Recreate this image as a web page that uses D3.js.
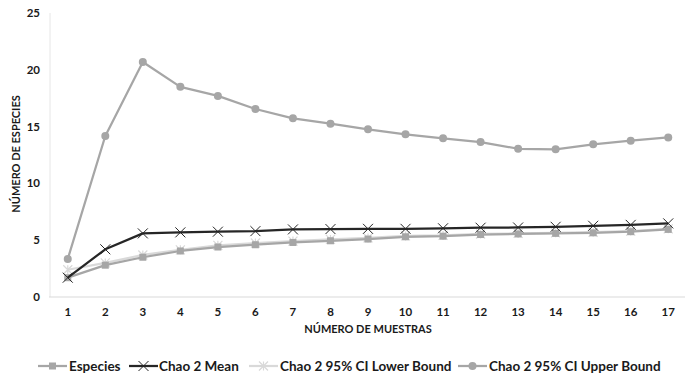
<!DOCTYPE html>
<html>
<head>
<meta charset="utf-8">
<script src="https://cdn.jsdelivr.net/npm/d3@7"></script>
<style>
  body { margin: 0; background: #fff; }
  text { font-family: Lato, "Open Sans", sans-serif; fill: #1a1a1a; }
</style>
</head>
<body>
<div id="chart"></div>
<script>
// Data
const samples = d3.range(1, 18);
const especies = [1.7, 2.8, 3.5, 4.05, 4.4, 4.6, 4.8, 4.95, 5.1, 5.3, 5.35, 5.5, 5.55, 5.6, 5.65, 5.75, 5.95];
const chaoMean = [1.7, 4.2, 5.6, 5.69, 5.75, 5.8, 5.95, 5.98, 6.0, 6.0, 6.05, 6.1, 6.12, 6.18, 6.27, 6.35, 6.48];
const lowerBound = [2.4, 3.0, 3.7, 4.15, 4.55, 4.75, 4.92, 5.07, 5.2, 5.38, 5.42, 5.55, 5.6, 5.65, 5.7, 5.8, 6.0];
const upperBound = [3.35, 14.17, 20.69, 18.5, 17.7, 16.55, 15.73, 15.26, 14.76, 14.32, 13.97, 13.64, 13.05, 13.0, 13.44, 13.76, 14.05];
const yTicks = [0, 5, 10, 15, 20, 25];

const series = [
  { name: "Especies", values: especies, color: "#a6a6a6", marker: "square" },
  { name: "Chao 2 Mean", values: chaoMean, color: "#262626", marker: "x" },
  { name: "Chao 2 95% CI Lower Bound", values: lowerBound, color: "#d9d9d9", marker: "star" },
  { name: "Chao 2 95% CI Upper Bound", values: upperBound, color: "#a6a6a6", marker: "circle" }
];

const width = 685, height = 379;
const margin = { top: 13, right: -2, bottom: 82, left: 49 };

const svg = d3.select("#chart").append("svg")
  .attr("width", width)
  .attr("height", height);

const x = d3.scaleBand()
  .domain(samples)
  .range([margin.left, width - margin.right]);

const y = d3.scaleLinear()
  .domain([0, 25])
  .range([height - margin.bottom, margin.top]);

const cx = d => x(d) + x.bandwidth() / 2;

// Axis lines
svg.append("line")
  .attr("x1", margin.left + 1).attr("x2", margin.left + 1)
  .attr("y1", y(25)).attr("y2", y(0))
  .attr("stroke", "#e6e6e6");
svg.append("line")
  .attr("x1", margin.left).attr("x2", width)
  .attr("y1", y(0)).attr("y2", y(0))
  .attr("stroke", "#d9d9d9");

// Y tick labels
svg.selectAll(".ytick")
  .data(yTicks)
  .enter().append("text")
  .attr("x", 40)
  .attr("y", d => y(d))
  .attr("dy", "0.35em")
  .attr("text-anchor", "end")
  .style("font-size", "11.5px")
  .style("font-weight", "bold")
  .text(d => d);

// X tick labels
svg.selectAll(".xtick")
  .data(samples)
  .enter().append("text")
  .attr("x", d => cx(d))
  .attr("y", 312)
  .attr("dy", "0.35em")
  .attr("text-anchor", "middle")
  .style("font-size", "11.5px")
  .style("font-weight", "bold")
  .text(d => d);

// Axis titles
svg.append("text")
  .attr("transform", `translate(16, 154) rotate(-90)`)
  .attr("text-anchor", "middle")
  .attr("dy", "0.35em")
  .style("font-size", "11px")
  .style("font-weight", "bold")
  .text("NÚMERO DE ESPECIES");

svg.append("text")
  .attr("x", 368)
  .attr("y", 329)
  .attr("dy", "0.35em")
  .attr("text-anchor", "middle")
  .style("font-size", "11px")
  .style("font-weight", "bold")
  .text("NÚMERO DE MUESTRAS");

// Marker drawing
function drawMarker(g, type, color, px, py) {
  if (type === "square") {
    g.append("rect").attr("x", px - 3.5).attr("y", py - 3.5)
      .attr("width", 7).attr("height", 7).attr("fill", color);
  } else if (type === "circle") {
    g.append("circle").attr("cx", px).attr("cy", py).attr("r", 4).attr("fill", color);
  } else if (type === "x") {
    const s = 5;
    g.append("path")
      .attr("d", `M${px - s},${py - s}L${px + s},${py + s}M${px - s},${py + s}L${px + s},${py - s}`)
      .attr("stroke", color).attr("stroke-width", 1);
  } else if (type === "star") {
    const s = 4.5;
    g.append("path")
      .attr("d", `M${px - s},${py - s}L${px + s},${py + s}M${px - s},${py + s}L${px + s},${py - s}M${px},${py - s}L${px},${py + s}`)
      .attr("stroke", color).attr("stroke-width", 1.2);
  }
}

const line = d3.line()
  .x((d, i) => cx(samples[i]))
  .y(d => y(d));

// Draw order: lower, especies, upper, mean on top
const drawOrder = [2, 0, 3, 1];
drawOrder.forEach(idx => {
  const s = series[idx];
  const g = svg.append("g");
  g.append("path")
    .datum(s.values)
    .attr("d", line)
    .attr("fill", "none")
    .attr("stroke", s.color)
    .attr("stroke-width", 2.25)
    .attr("stroke-linejoin", "round");
  s.values.forEach((v, i) => drawMarker(g, s.marker, s.color, cx(samples[i]), y(v)));
});

// Legend
const legendItems = [
  { x: 38, textX: 69 },
  { x: 129, textX: 159 },
  { x: 249, textX: 280 },
  { x: 458, textX: 489 }
];
const legend = svg.append("g");
series.forEach((s, i) => {
  const lx = legendItems[i].x, ly = 366;
  legend.append("line")
    .attr("x1", lx).attr("x2", lx + 29)
    .attr("y1", ly).attr("y2", ly)
    .attr("stroke", s.color).attr("stroke-width", 2.25);
  drawMarker(legend, s.marker, s.color, lx + 14.5, ly);
  legend.append("text")
    .attr("x", legendItems[i].textX)
    .attr("y", ly)
    .attr("dy", "0.35em")
    .style("font-size", "13.5px")
    .style("font-weight", "bold")
    .text(s.name);
});
</script>
</body>
</html>
